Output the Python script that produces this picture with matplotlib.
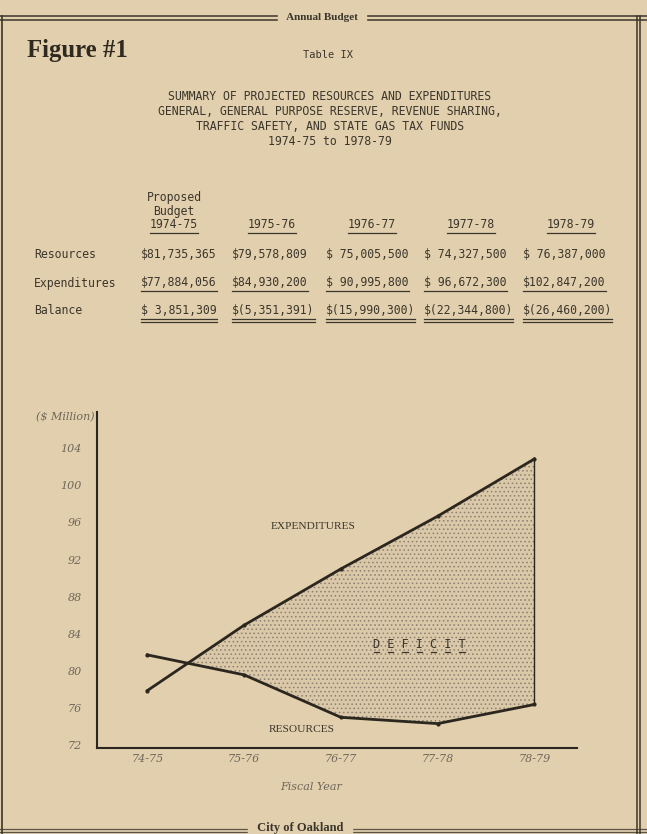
import matplotlib.pyplot as plt
from matplotlib.lines import Line2D

# --- data (from Table IX, $) ---
years = ["1974-75", "1975-76", "1976-77", "1977-78", "1978-79"]
year_ticks = ["74-75", "75-76", "76-77", "77-78", "78-79"]
resources = [81735365, 79578809, 75005500, 74327500, 76387000]
expenditures = [77884056, 84930200, 90995800, 96672300, 102847200]
balance_txt = ["$ 3,851,309", "$(5,351,391)", "$(15,990,300)", "$(22,344,800)", "$(26,460,200)"]
res_txt = ["$81,735,365", "$79,578,809", "$ 75,005,500", "$ 74,327,500", "$ 76,387,000"]
exp_txt = ["$77,884,056", "$84,930,200", "$ 90,995,800", "$ 96,672,300", "$102,847,200"]
y_ticks = [72, 76, 80, 84, 88, 92, 96, 100, 104]

PAPER = "#e2cfae"
INK = "#3b362b"
GREY = "#6e675a"
MONO = "DejaVu Sans Mono"
W, H = 647, 834

plt.rcParams["hatch.linewidth"] = 0.6


def fx(x):
    return x / W


def fy(y):
    return 1 - y / H


fig = plt.figure(figsize=(W / 100, H / 100), dpi=100, facecolor=PAPER)

# page frame
for y in (16, 20):
    fig.add_artist(Line2D([0, 1], [fy(y), fy(y)], color=INK, lw=1.1))
for x in (636.5, 640):
    fig.add_artist(Line2D([fx(x), fx(x)], [fy(16), fy(834)], color=INK, lw=1.1))
fig.add_artist(Line2D([fx(1.5), fx(1.5)], [fy(16), fy(834)], color=INK, lw=1.2))
for y in (829, 832):
    fig.add_artist(Line2D([0, 1], [fy(y), fy(y)], color=INK, lw=0.9, alpha=0.8))
fig.text(fx(322), fy(17), " Annual Budget ", ha="center", va="center", fontsize=8,
         fontweight="bold", family="Liberation Serif", color=INK, backgroundcolor=PAPER)
fig.text(fx(300), fy(828), " City of Oakland ", ha="center", va="center", fontsize=9,
         fontweight="bold", family="Liberation Serif", color=INK, backgroundcolor=PAPER)

fig.text(fx(27), fy(50), "Figure #1", ha="left", va="center", fontsize=17.8,
         fontweight="bold", family="Liberation Serif", color="#2f2a20")
fig.text(fx(328), fy(55), "Table IX", ha="center", va="center", fontsize=7.5,
         family=MONO, color=INK)

title = ["SUMMARY OF PROJECTED RESOURCES AND EXPENDITURES",
         "GENERAL, GENERAL PURPOSE RESERVE, REVENUE SHARING,",
         "TRAFFIC SAFETY, AND STATE GAS TAX FUNDS",
         "1974-75 to 1978-79"]
for i, line in enumerate(title):
    fig.text(fx(330), fy(97 + 14.7 * i), line, ha="center", va="center",
             fontsize=8.3, family=MONO, color=INK)

# table
col_centers = [174, 272, 372, 471, 571]
col_left = [141, 232, 326, 424, 523]
fs = 8.3
single, double = [], []
for y, t in zip((197, 211), ("Proposed", "Budget")):
    fig.text(fx(col_centers[0]), fy(y), t, ha="center", va="center", fontsize=fs,
             family=MONO, color=INK)
for cx, yr in zip(col_centers, years):
    single.append(fig.text(fx(cx), fy(225), yr, ha="center", va="center", fontsize=fs,
                           family=MONO, color=INK))

rows = [("Resources", res_txt, 254), ("Expenditures", exp_txt, 283), ("Balance", balance_txt, 311)]
for label, vals, y in rows:
    fig.text(fx(34), fy(y), label, ha="left", va="center", fontsize=fs, family=MONO, color=INK)
    for x, v in zip(col_left, vals):
        t = fig.text(fx(x), fy(y), v, ha="left", va="center", fontsize=fs, family=MONO, color=INK)
        if label == "Expenditures":
            single.append(t)
        elif label == "Balance":
            double.append(t)

# chart
ax = fig.add_axes([fx(97), fy(748), fx(480), 336 / H])
ax.set_facecolor("none")
xs = list(range(len(years)))
res_m = [v / 1e6 for v in resources]
exp_m = [v / 1e6 for v in expenditures]

ax.fill_between(xs, res_m, exp_m, where=[e >= r for e, r in zip(exp_m, res_m)],
                interpolate=True, facecolor="#dac8a8", edgecolor="#8b8170",
                hatch="....", linewidth=0)
ax.plot(xs, exp_m, color="#2b271f", lw=2, marker="o", ms=2)
ax.plot(xs, res_m, color="#2b271f", lw=2, marker="o", ms=2)
ax.vlines(xs[-1], res_m[-1], exp_m[-1], color="#2b271f", lw=1)

ax.set_xlim(-0.52, 4.44)
ax.set_ylim(71.7, 107.9)
ax.set_xticks(xs)
ax.set_xticklabels(year_ticks)
ax.set_yticks(y_ticks)
ax.set_yticklabels([str(v) for v in y_ticks])
for s in ("top", "right"):
    ax.spines[s].set_visible(False)
for s in ("left", "bottom"):
    ax.spines[s].set_color("#2b271f")
    ax.spines[s].set_linewidth(1.5)
ax.tick_params(length=0, colors=GREY, labelsize=8)
ax.tick_params(axis="y", pad=11)
ax.tick_params(axis="x", pad=4)
for lab in ax.get_xticklabels() + ax.get_yticklabels():
    lab.set_fontstyle("italic")
    lab.set_family("DejaVu Serif")

ax.text(1.28, 95.6, "EXPENDITURES", ha="left", va="center", fontsize=8.2,
        family="Liberation Serif", color=INK)
ax.text(1.25, 73.7, "RESOURCES", ha="left", va="center", fontsize=8.2,
        family="Liberation Serif", color=INK)
deficit = ax.text(2.81, 82.9, "D E F I C I T", ha="center", va="center", fontsize=8.6,
                  family=MONO, color=INK)

fig.text(fx(95), fy(417), "($ Million)", ha="right", va="center", fontsize=8,
         style="italic", family="DejaVu Serif", color=GREY)
fig.text(fx(311), fy(787), "Fiscal Year", ha="center", va="center", fontsize=8,
         style="italic", family="DejaVu Serif", color=GREY)

fig.canvas.draw()
r = fig.canvas.get_renderer()


def hline(x0, x1, y, lw=0.9):
    fig.add_artist(Line2D([x0 / W, x1 / W], [y / H, y / H], color=INK, lw=lw))


for t in single:
    bb = t.get_window_extent(r)
    hline(bb.x0, bb.x1, bb.y0 - 1)
for t in double:
    bb = t.get_window_extent(r)
    hline(bb.x0, bb.x1, bb.y0 - 1)
    hline(bb.x0, bb.x1, bb.y0 - 4)
bb = deficit.get_window_extent(r)
cw = bb.width / len(deficit.get_text())
for i, ch in enumerate(deficit.get_text()):
    if ch != " ":
        hline(bb.x0 + i * cw + 1, bb.x0 + (i + 1) * cw - 1, bb.y0 - 1)

fig.savefig("out.png", dpi=100, facecolor=PAPER)
